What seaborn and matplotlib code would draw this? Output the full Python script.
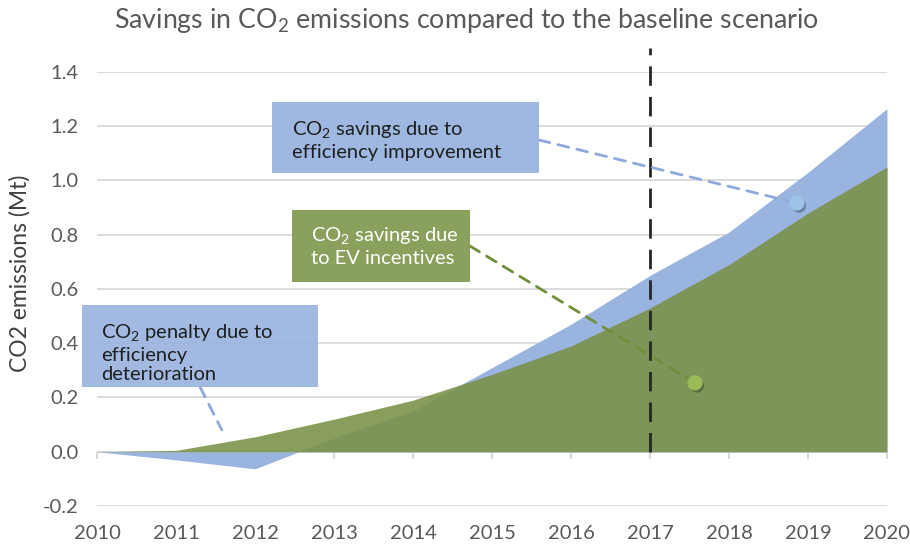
import matplotlib.pyplot as plt
import matplotlib.patheffects as pe
from matplotlib.patches import Rectangle
import seaborn as sns

# values (Mt CO2)
years = [2010, 2011, 2012, 2013, 2014, 2015, 2016, 2017, 2018, 2019, 2020]
efficiency_savings = [0.0, -0.03, -0.063, 0.05, 0.15, 0.31, 0.47, 0.65, 0.81, 1.03, 1.265]
ev_savings = [0.0, 0.005, 0.055, 0.12, 0.19, 0.285, 0.39, 0.53, 0.69, 0.88, 1.05]
yticks = [-0.2, 0.0, 0.2, 0.4, 0.6, 0.8, 1.0, 1.2, 1.4]
policy_year = 2017

# callout anchor points
eff_point = (2018.86, 0.917)
ev_point = (2017.57, 0.254)
penalty_point = (2011.58, 0.08)

sns.set_theme(style="white")
plt.rcParams["font.family"] = ["Lato", "DejaVu Sans"]
plt.rcParams["mathtext.fontset"] = "custom"
plt.rcParams["mathtext.rm"] = "Lato"

BLUE = "#9ab4e0"
GREEN = "#7b9249"
GREY = "#595959"

fig = plt.figure(figsize=(9.1, 5.45), dpi=100)
ax = fig.add_axes([0.1066, 0.0716, 0.8681, 0.7963])

# areas
ax.fill_between(years, efficiency_savings, 0, color=BLUE, lw=0, zorder=2)
ax.fill_between(years, ev_savings, 0, color=GREEN, alpha=0.89, lw=0, zorder=3)

# baseline year marker
ax.vlines(policy_year, 0, 1.49, colors="#262626", linestyles=(0, (7, 4)), lw=2,
          clip_on=False, zorder=5)

# axes styling
ax.set_xlim(2010, 2020)
ax.set_ylim(-0.2, 1.4)
ax.set_yticks(yticks)
ax.set_yticklabels([f"{v:.1f}" for v in yticks])
ax.set_xticks(years)
ax.yaxis.grid(True, color="#d9d9d9", lw=1.3, zorder=0)
ax.set_axisbelow(True)
for s in ax.spines.values():
    s.set_visible(False)
ax.axhline(0, color="#d9d9d9", lw=1.5, zorder=1)
ax.vlines(years, -0.026, 0, colors="#d9d9d9", lw=1.5, clip_on=False, zorder=1)
ax.tick_params(axis="y", length=0, pad=13, labelsize=14.5, labelcolor=GREY)
ax.tick_params(axis="x", length=0, pad=14, labelsize=14.5, labelcolor=GREY)
ax.set_ylabel("CO2 emissions (Mt)", fontsize=16.5, color="#404040")
ax.yaxis.set_label_coords(-0.084, 0.537)

fig.text(0.513, 1 - 28 / 545,
         "Savings in CO$_\\mathregular{2}$ emissions compared to the baseline scenario",
         ha="center", va="baseline", fontsize=19.3, color=GREY)

# callout boxes (axes fraction)
boxes = [
    ((0.2215, 0.767), 0.338, 0.1636, BLUE, 0.95,
     "CO$_\\mathregular{2}$ savings due to\nefficiency improvement", "#1f1f1f", (0.2468, 0.8433)),
    ((0.2468, 0.516), 0.2253, 0.1659, "#869d58", 0.97,
     "CO$_\\mathregular{2}$ savings due\nto EV incentives", "white", (0.2709, 0.599)),
    ((-0.019, 0.2742), 0.2987, 0.189, BLUE, 0.92,
     "CO$_\\mathregular{2}$ penalty due to\nefficiency\ndeterioration", "#1f1f1f", (0.005, 0.3525)),
]
for (x0, y0), w, h, fc, a, label, tc, (tx, ty) in boxes:
    ax.add_patch(Rectangle((x0, y0), w, h, transform=ax.transAxes, facecolor=fc,
                           alpha=a, lw=0, zorder=6, clip_on=False))
    ax.text(tx, ty, label, transform=ax.transAxes, ha="left", va="center",
            fontsize=14.5, color=tc, linespacing=1.2, zorder=7)

# connectors
conn = [
    (eff_point, (0.5595, 0.8433), "#8eaadc"),
    (ev_point, (0.4721, 0.599), "#6f8f3a"),
    (penalty_point, (0.1304, 0.2742), "#8eaadc"),
]
for xy, xytext, c in conn:
    ax.annotate("", xy=xy, xytext=xytext, textcoords="axes fraction",
                arrowprops=dict(arrowstyle="-", color=c, lw=2, linestyle=(0, (4, 3)),
                                shrinkA=0, shrinkB=0), zorder=5)

shadow = [pe.SimplePatchShadow(offset=(1.5, -2), shadow_rgbFace="k", alpha=0.35), pe.Normal()]
ax.plot(*eff_point, "o", ms=10, color="#9dc3e6", zorder=8, path_effects=shadow)
ax.plot(*ev_point, "o", ms=10, color="#9bbb59", zorder=8, path_effects=shadow)

fig.savefig("out.png", dpi=100)
